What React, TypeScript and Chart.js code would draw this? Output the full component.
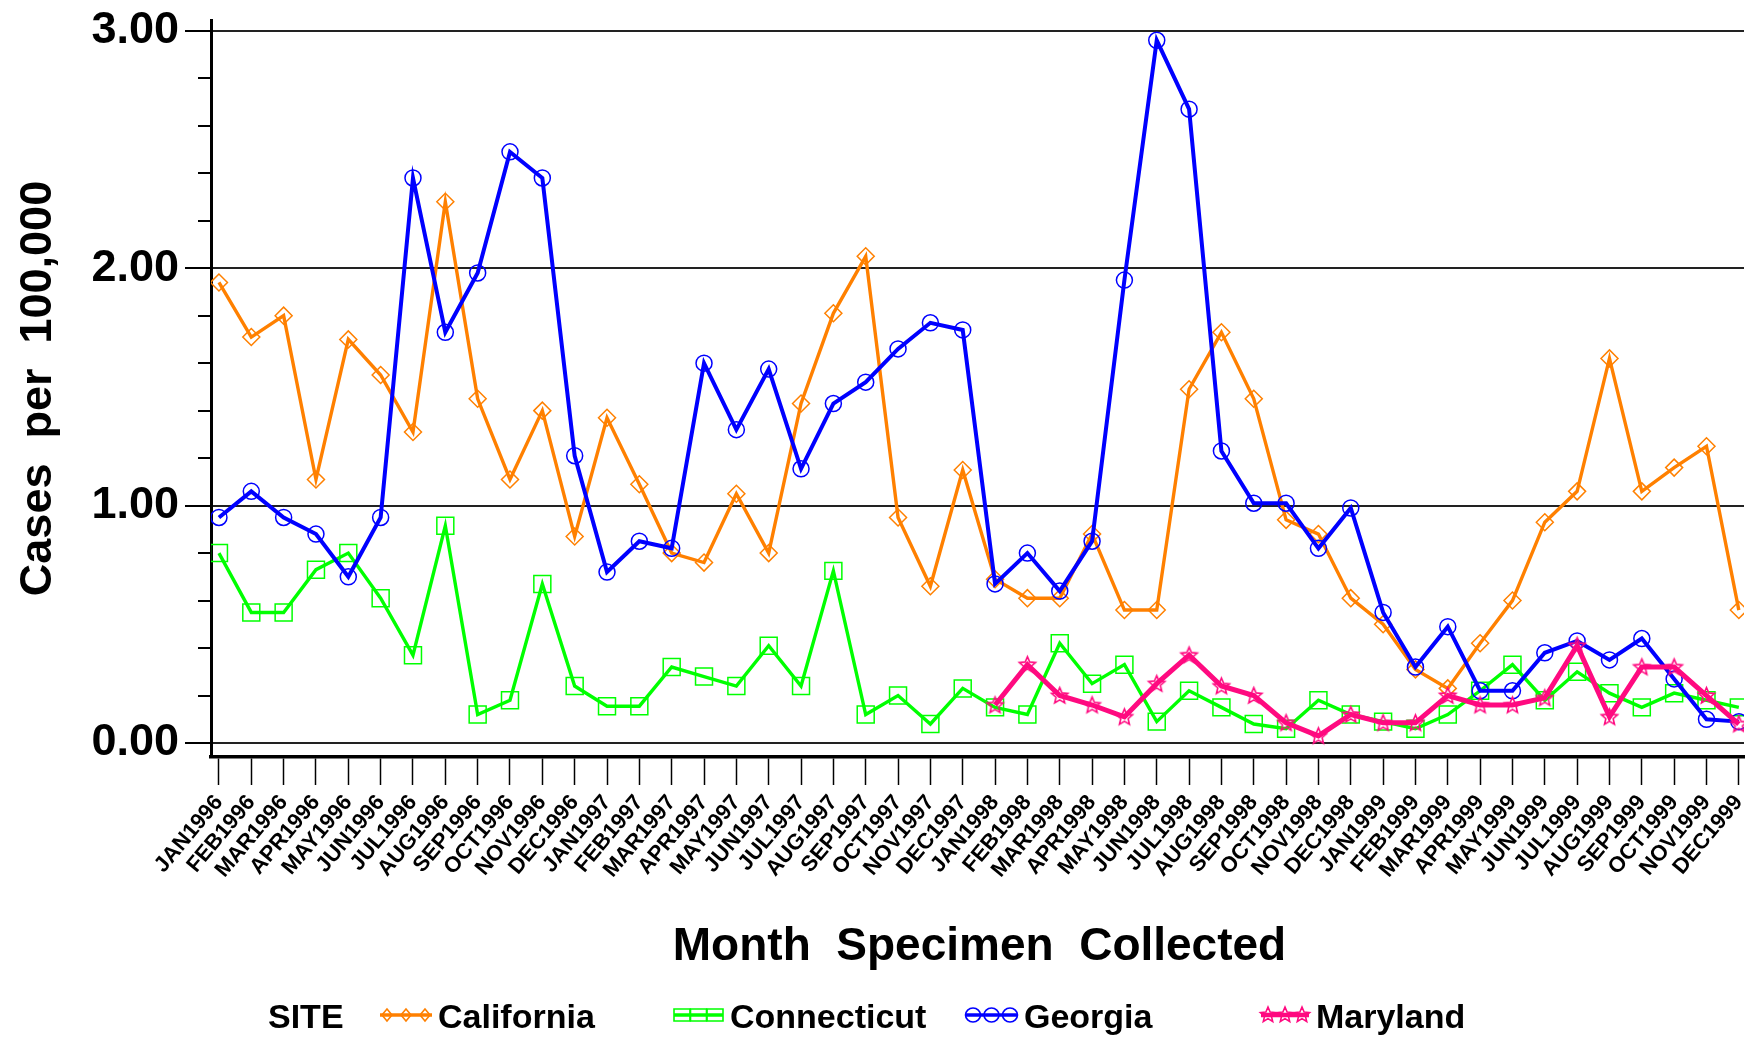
import React, { useEffect, useRef } from "react";
import { Chart, registerables } from "chart.js";

Chart.register(...registerables);

// ---------- data ----------
const MONTH_LABELS = [
  "JAN1996", "FEB1996", "MAR1996", "APR1996", "MAY1996", "JUN1996",
  "JUL1996", "AUG1996", "SEP1996", "OCT1996", "NOV1996", "DEC1996",
  "JAN1997", "FEB1997", "MAR1997", "APR1997", "MAY1997", "JUN1997",
  "JUL1997", "AUG1997", "SEP1997", "OCT1997", "NOV1997", "DEC1997",
  "JAN1998", "FEB1998", "MAR1998", "APR1998", "MAY1998", "JUN1998",
  "JUL1998", "AUG1998", "SEP1998", "OCT1998", "NOV1998", "DEC1998",
  "JAN1999", "FEB1999", "MAR1999", "APR1999", "MAY1999", "JUN1999",
  "JUL1999", "AUG1999", "SEP1999", "OCT1999", "NOV1999", "DEC1999",
];

const california = [
  1.94, 1.71, 1.80, 1.11, 1.70, 1.55, 1.31, 2.28, 1.45, 1.11, 1.40, 0.87,
  1.37, 1.09, 0.80, 0.76, 1.05, 0.80, 1.43, 1.81, 2.05, 0.95, 0.66, 1.15,
  0.69, 0.61, 0.61, 0.88, 0.56, 0.56, 1.49, 1.73, 1.45, 0.94, 0.88, 0.61,
  0.50, 0.31, 0.23, 0.42, 0.60, 0.93, 1.06, 1.62, 1.06, 1.16, 1.25, 0.56,
];

const connecticut = [
  0.80, 0.55, 0.55, 0.73, 0.80, 0.61, 0.37, 0.915, 0.12, 0.18, 0.67, 0.24,
  0.155, 0.155, 0.32, 0.28, 0.24, 0.41, 0.24, 0.725, 0.12, 0.20, 0.08, 0.23,
  0.15, 0.12, 0.42, 0.25, 0.33, 0.09, 0.22, 0.15, 0.08, 0.06, 0.18, 0.12,
  0.09, 0.06, 0.12, 0.22, 0.33, 0.18, 0.30, 0.21, 0.15, 0.21, 0.18, 0.15,
];

const georgia = [
  0.95, 1.06, 0.95, 0.88, 0.70, 0.95, 2.38, 1.73, 1.98, 2.49, 2.38, 1.21,
  0.72, 0.85, 0.82, 1.60, 1.32, 1.575, 1.155, 1.43, 1.52, 1.66, 1.77, 1.74,
  0.67, 0.80, 0.64, 0.85, 1.95, 2.96, 2.67, 1.23, 1.01, 1.01, 0.82, 0.99,
  0.55, 0.32, 0.49, 0.22, 0.22, 0.38, 0.43, 0.35, 0.44, 0.27, 0.10, 0.09,
];

// Maryland reporting starts JAN1998
const MARYLAND_START = "JAN1998";
const maryland = [
  0.16, 0.33, 0.20, 0.16, 0.11, 0.25, 0.37, 0.24, 0.20, 0.085, 0.03, 0.12,
  0.085, 0.085, 0.20, 0.16, 0.16, 0.19, 0.41, 0.11, 0.32, 0.32, 0.20, 0.08,
];

const Y_TICK_VALUES = [0, 0.2, 0.4, 0.6, 0.8, 1, 1.2, 1.4, 1.6, 1.8, 2, 2.2, 2.4, 2.6, 2.8, 3];
const Y_MAJOR_VALUES = [0, 1, 2, 3];

const SERIES_NAMES = ["California", "Connecticut", "Georgia", "Maryland"];
const LEGEND_TITLE = "SITE";
const X_TITLE = "Month  Specimen  Collected";
const Y_TITLE = "Cases  per  100,000";

// ---------- styles ----------
const FONT = '"Liberation Sans", Arial, Helvetica, sans-serif';
const ORANGE = "#ff8000";
const GREEN = "#00ff00";
const BLUE = "#0000ff";
const PINK = "#ff0a80";
const NONE = "rgba(0,0,0,0)";

function isMajor(v: number) {
  return Y_MAJOR_VALUES.some((m) => Math.abs(m - v) < 1e-6);
}

function starPath(ctx: CanvasRenderingContext2D, cx: number, cy: number, R: number, r: number) {
  ctx.beginPath();
  for (let k = 0; k < 10; k++) {
    const a = -Math.PI / 2 + (k * Math.PI) / 5;
    const rad = k % 2 === 0 ? R : r;
    const px = cx + rad * Math.cos(a);
    const py = cy + rad * Math.sin(a);
    if (k === 0) ctx.moveTo(px, py);
    else ctx.lineTo(px, py);
  }
  ctx.closePath();
}

function makeStarCanvas(color: string, R: number) {
  const size = Math.ceil(R * 2 + 6);
  const c = document.createElement("canvas");
  c.width = size;
  c.height = size;
  const g = c.getContext("2d")!;
  g.strokeStyle = color;
  g.lineWidth = 1.6;
  starPath(g, size / 2, size / 2 + 0.5, R, R * 0.45);
  g.stroke();
  return c;
}

function drawMarker(ctx: CanvasRenderingContext2D, kind: string, x: number, y: number, color: string) {
  ctx.save();
  ctx.strokeStyle = color;
  ctx.lineWidth = 1.6;
  ctx.beginPath();
  if (kind === "diamond") {
    ctx.moveTo(x, y - 6);
    ctx.lineTo(x + 5, y);
    ctx.lineTo(x, y + 6);
    ctx.lineTo(x - 5, y);
    ctx.closePath();
    ctx.stroke();
  } else if (kind === "rect") {
    ctx.rect(x - 8, y - 6, 16, 12);
    ctx.stroke();
  } else if (kind === "circle") {
    ctx.ellipse(x, y, 7.5, 7, 0, 0, Math.PI * 2);
    ctx.stroke();
  } else if (kind === "star") {
    starPath(ctx, x, y, 8, 3.6);
    ctx.stroke();
  }
  ctx.restore();
}

const decorPlugin = {
  id: "decor",
  afterDraw(chart: any) {
    const ctx: CanvasRenderingContext2D = chart.ctx;
    const area = chart.chartArea;
    const yScale = chart.scales.y;
    ctx.save();
    // minor y ticks
    ctx.strokeStyle = "#000";
    ctx.lineWidth = 2;
    for (const t of yScale.ticks) {
      if (isMajor(t.value)) continue;
      const py = Math.round(yScale.getPixelForValue(t.value));
      ctx.beginPath();
      ctx.moveTo(area.left - 13, py);
      ctx.lineTo(area.left, py);
      ctx.stroke();
    }
    // axis titles
    ctx.fillStyle = "#000";
    ctx.font = `bold 46px ${FONT}`;
    ctx.textAlign = "center";
    ctx.textBaseline = "alphabetic";
    ctx.fillText(X_TITLE, (area.left + area.right) / 2 + 2, 960);
    ctx.save();
    ctx.font = `bold 45px ${FONT}`;
    ctx.translate(51, (area.top + area.bottom) / 2);
    ctx.rotate(-Math.PI / 2);
    ctx.fillText(Y_TITLE, 0, 0);
    ctx.restore();

    // legend
    const baseY = 1028;
    const symY = 1015;
    ctx.font = `bold 34px ${FONT}`;
    ctx.textAlign = "left";
    ctx.fillText(LEGEND_TITLE, 268, baseY);
    const items = [
      { name: SERIES_NAMES[0], color: ORANGE, kind: "diamond", x0: 380, x1: 432, tx: 438, lw: 3.5 },
      { name: SERIES_NAMES[1], color: GREEN, kind: "rect", x0: 674, x1: 723, tx: 730, lw: 3.5 },
      { name: SERIES_NAMES[2], color: BLUE, kind: "circle", x0: 966, x1: 1017, tx: 1024, lw: 3.5 },
      { name: SERIES_NAMES[3], color: PINK, kind: "star", x0: 1261, x1: 1309, tx: 1316, lw: 4.5 },
    ];
    for (const it of items) {
      ctx.strokeStyle = it.color;
      ctx.lineWidth = it.lw;
      ctx.beginPath();
      ctx.moveTo(it.x0, symY);
      ctx.lineTo(it.x1, symY);
      ctx.stroke();
      const w = it.x1 - it.x0;
      const inset = it.kind === "rect" ? 8 : 7;
      for (let k = 0; k < 3; k++) {
        const mx = it.x0 + inset + ((w - 2 * inset) * k) / 2;
        drawMarker(ctx, it.kind, mx, symY, it.color);
      }
      ctx.fillStyle = "#000";
      ctx.fillText(it.name, it.tx, baseY);
    }
    ctx.restore();
  },
};

function toPoints(values: (number | null)[], start = 0) {
  return values.map((v, i) => ({ x: start + i, y: v }));
}

export default function App() {
  const ref = useRef<HTMLCanvasElement>(null);

  useEffect(() => {
    const canvas = ref.current!;
    const starImg = makeStarCanvas(PINK, 8.5);
    const mdStart = MONTH_LABELS.indexOf(MARYLAND_START);

    const chart = new Chart(canvas, {
      type: "line",
      data: {
        datasets: [
          {
            label: SERIES_NAMES[0],
            data: toPoints(california),
            borderColor: ORANGE,
            borderWidth: 3.4,
            pointStyle: "rectRot",
            pointRadius: 8.5,
            pointBorderWidth: 1.5,
            pointBorderColor: ORANGE,
            pointBackgroundColor: NONE,
            tension: 0,
            order: 4,
          },
          {
            label: SERIES_NAMES[1],
            data: toPoints(connecticut),
            borderColor: GREEN,
            borderWidth: 3.4,
            pointStyle: "rect",
            pointRadius: 12,
            pointBorderWidth: 1.5,
            pointBorderColor: GREEN,
            pointBackgroundColor: NONE,
            tension: 0,
            order: 3,
          },
          {
            label: SERIES_NAMES[2],
            data: toPoints(georgia),
            borderColor: BLUE,
            borderWidth: 4,
            pointStyle: "circle",
            pointRadius: 8,
            pointBorderWidth: 1.5,
            pointBorderColor: BLUE,
            pointBackgroundColor: NONE,
            tension: 0,
            order: 2,
          },
          {
            label: SERIES_NAMES[3],
            data: toPoints(maryland, mdStart),
            borderColor: PINK,
            borderWidth: 5,
            pointStyle: starImg as any,
            pointRadius: 9,
            pointBorderColor: PINK,
            pointBackgroundColor: NONE,
            tension: 0,
            order: 1,
          },
        ],
      },
      options: {
        responsive: false,
        animation: false,
        devicePixelRatio: 1,
        layout: { padding: { top: 20, right: 3, left: 0, bottom: 0 } },
        plugins: { legend: { display: false }, tooltip: { enabled: false } },
        scales: {
          x: {
            type: "linear",
            min: -0.246,
            max: 47.16,
            afterBuildTicks: (s: any) => {
              s.ticks = MONTH_LABELS.map((_, i) => ({ value: i }));
            },
            afterFit: (s: any) => {
              s.height = 280;
              s.paddingLeft = 0;
              s.paddingRight = 0;
              s.paddingTop = 0;
              s.paddingBottom = 0;
            },
            ticks: {
              autoSkip: false,
              minRotation: 50,
              maxRotation: 50,
              padding: 5,
              color: "#000",
              font: { family: FONT, size: 22, weight: "bold" },
              callback: (v: any) => MONTH_LABELS[v] ?? "",
            },
            grid: {
              drawOnChartArea: false,
              drawTicks: true,
              tickLength: 28,
              tickWidth: 1.5,
              tickColor: "#000",
              color: "#000",
            },
            border: { display: true, color: "#000", width: 3.5 },
          },
          y: {
            type: "linear",
            min: -0.059,
            max: 3.0455,
            afterBuildTicks: (s: any) => {
              s.ticks = Y_TICK_VALUES.map((v) => ({ value: v }));
            },
            afterFit: (s: any) => {
              s.width = 211;
              s.paddingLeft = 0;
              s.paddingRight = 0;
              s.paddingTop = 0;
              s.paddingBottom = 0;
            },
            ticks: {
              autoSkip: false,
              padding: 6,
              color: "#000",
              font: { family: FONT, size: 45, weight: "bold" },
              callback: (v: any) => (isMajor(v) ? Number(v).toFixed(2) : ""),
            },
            grid: {
              color: (c: any) => (c.tick && isMajor(c.tick.value) ? "#222" : NONE),
              lineWidth: 2,
              tickLength: 26,
              tickWidth: 2,
              tickColor: (c: any) => (c.tick && isMajor(c.tick.value) ? "#000" : NONE),
            },
            border: { display: true, color: "#000", width: 3 },
          },
        },
      },
      plugins: [decorPlugin],
    } as any);

    return () => chart.destroy();
  }, []);

  return (
    <div style={{ position: "absolute", left: 0, top: 0, width: 1758, height: 1037, background: "#fff" }}>
      <canvas ref={ref} width={1758} height={1037} style={{ display: "block", width: 1758, height: 1037 }} />
    </div>
  );
}
